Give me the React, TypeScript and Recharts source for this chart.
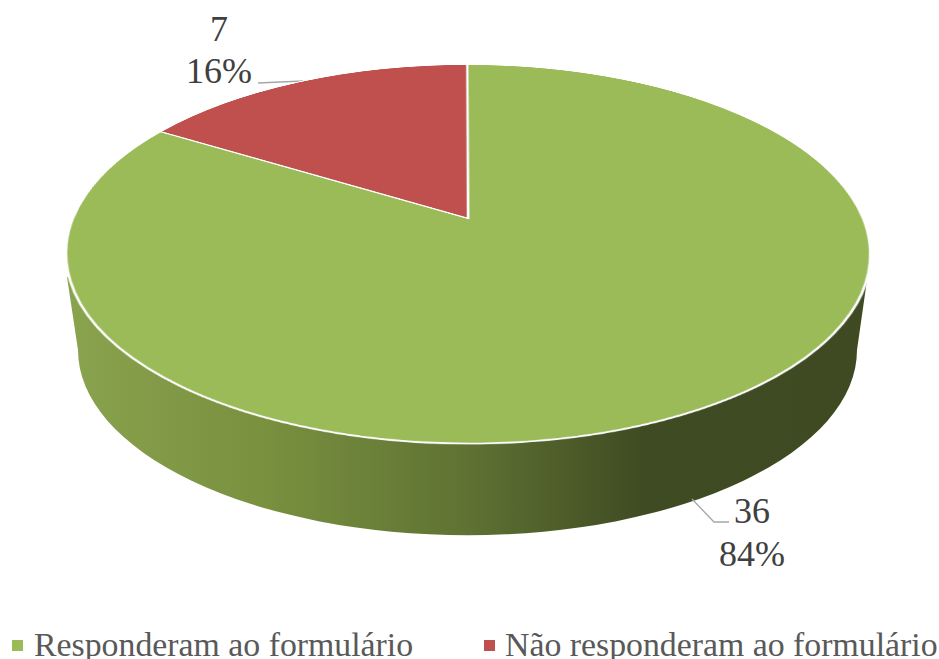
import { PieChart, Pie, Legend } from 'recharts'

const categories = ['Responderam ao formulário', 'Não responderam ao formulário']
const counts = [36, 7]
const sliceColors = ['#9bbb59', '#c0504d']

const table = categories.map((name, i) => ({ name, value: counts[i], fill: sliceColors[i] }))

const textColor = '#404040'
const serif = '"Liberation Serif", "Times New Roman", serif'

// apex of the pie once tilted, found from the top face of the reference
const apexX = 467
const apexY = 218
const radius = 394
const plate = 900
// the tilted plate lands a little off, pull it back
const nudgeX = -4.5
const nudgeY = -2.5

function renderLabel(props: any) {
    const { index, value, percent } = props
    const pct = `${Math.round(percent * 100)}%`
    const spot = index === 0
        ? { x: 752, y1: 523, y2: 566, line: '692,499 714,522 729,522' }
        : { x: 219, y1: 41, y2: 83, line: '258,83 303,81' }
    return (
        <g key={index}>
            <polyline points={spot.line} fill="none" stroke="#a6a6a6" strokeWidth={1.3} />
            <text x={spot.x} y={spot.y1} textAnchor="middle" fontSize={36} fontFamily={serif} fill={textColor}>{value}</text>
            <text x={spot.x} y={spot.y2} textAnchor="middle" fontSize={36} fontFamily={serif} fill={textColor}>{pct}</text>
        </g>
    )
}

function renderLegend(props: any) {
    const items = props.payload || []
    return (
        <div style={{ position: 'relative', height: 40, fontFamily: serif, fontSize: 33.8, color: '#595959' }}>
            {items.map((item: any, i: number) => (
                <div key={item.value} style={{ position: 'absolute', left: i === 0 ? 12 : 484, top: 6, lineHeight: '40px', whiteSpace: 'nowrap' }}>
                    <span style={{ display: 'inline-block', position: 'relative', top: -5, width: 11, height: 11, background: item.color, marginRight: i === 0 ? 11 : 10 }} />
                    {item.value}
                </div>
            ))}
        </div>
    )
}

export default function App() {
    return (
        <div style={{ position: 'absolute', left: 0, top: 0, width: 939, height: 659, overflow: 'hidden', background: '#fff' }}>
            <div style={{ position: 'absolute', left: 0, top: 0 }}>
                <PieChart width={939} height={659}>
                    <defs>
                        <linearGradient id="wall" gradientUnits="userSpaceOnUse" x1={66} y1={0} x2={868} y2={0}>
                            <stop offset="0" stopColor="#8aa34e" />
                            <stop offset="0.25" stopColor="#79903f" />
                            <stop offset="0.5" stopColor="#5f7233" />
                            <stop offset="0.72" stopColor="#3f4b22" />
                            <stop offset="1" stopColor="#3f4a22" />
                        </linearGradient>
                    </defs>
                    <path d="M67,277 L78,350 A389,185 0 0 0 857,350 L867,280 Z" fill="url(#wall)" />
                    <Pie
                        data={table}
                        dataKey="value"
                        nameKey="name"
                        cx={apexX}
                        cy={apexY}
                        outerRadius={90}
                        startAngle={90}
                        endAngle={-270}
                        stroke="none"
                        legendType="square"
                        label={renderLabel}
                        labelLine={false}
                        isAnimationActive={false}
                    />
                    <Legend content={renderLegend} itemSorter={null} verticalAlign="bottom" wrapperStyle={{ left: 0, bottom: 0, width: 939 }} />
                </PieChart>
            </div>
            <div
                style={{
                    position: 'absolute',
                    left: apexX - plate / 2 + nudgeX,
                    top: apexY - plate / 2 + nudgeY,
                    width: plate,
                    height: plate,
                    transformOrigin: '50% 50%',
                    transform: 'perspective(1859px) rotateX(62.5deg)'
                }}
            >
                <PieChart width={plate} height={plate}>
                    <Pie
                        data={table}
                        dataKey="value"
                        nameKey="name"
                        cx={plate / 2}
                        cy={plate / 2}
                        outerRadius={radius}
                        startAngle={90}
                        endAngle={-270}
                        stroke="#ffffff"
                        strokeWidth={2.5}
                        isAnimationActive={false}
                    />
                </PieChart>
            </div>
        </div>
    )
}
